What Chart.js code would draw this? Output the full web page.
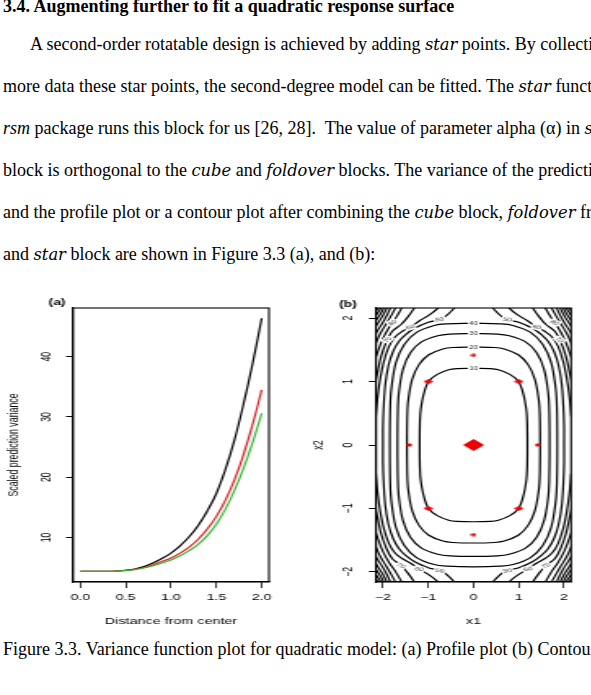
<!DOCTYPE html>
<html>
<head>
<meta charset="utf-8">
<script src="https://cdn.jsdelivr.net/npm/chart.js@4.4.1/dist/chart.umd.min.js"></script>
<style>
  html, body { margin: 0; padding: 0; background: #fff; overflow: hidden; }
  body { width: 591px; height: 695px; position: relative; }
  .ln { position: absolute; white-space: nowrap; font-family: 'Liberation Serif', 'Times New Roman', serif;
        font-size: 18px; line-height: 20px; color: #000; }
  .ln i { font-style: italic; }
  .ln .m { font-family: 'DejaVu Serif', serif; font-style: italic; font-size: 16.3px; }
  .fig { position: absolute; top: 285px; height: 345px; transform-origin: 0 0; transform: scaleX(1.63); }
</style>
</head>
<body>
<div class="ln" style="left:3px; top:-4.5px; font-weight:bold">3.4. Augmenting further to fit a quadratic response surface</div>
<div class="ln" style="left:30px; top:33.5px">A second-order rotatable design is achieved by adding <span class="m">star</span> points. By collecting</div>
<div class="ln" style="left:3px; top:75.6px">more data these star points, the second-degree model can be fitted. The <span class="m">star</span> function in the</div>
<div class="ln" style="left:3px; top:117.7px"><i>rsm</i> package runs this block for us [26, 28].&nbsp; The value of parameter alpha (α) in <span class="m">star</span></div>
<div class="ln" style="left:3px; top:159.8px">block is orthogonal to the <span class="m">cube</span> and <span class="m">foldover</span> blocks. The variance of the prediction</div>
<div class="ln" style="left:3px; top:201.9px">and the profile plot or a contour plot after combining the <span class="m">cube</span> block, <span class="m">foldover</span> from</div>
<div class="ln" style="left:3px; top:244px">and <span class="m">star</span> block are shown in Figure 3.3 (a), and (b):</div>

<div class="fig" style="left:0px; width:178px"><canvas id="cA" width="178" height="345"></canvas></div>
<div class="fig" style="left:300px; width:179px"><canvas id="cB" width="179" height="345"></canvas></div>

<div class="ln" style="left:3px; top:639px">Figure 3.3. Variance function plot for quadratic model: (a) Profile plot (b) Contour plot</div>

<script>
// ---- (a) profile plot ----
const distance = [0, 0.1, 0.2, 0.3, 0.4, 0.5, 0.6, 0.7, 0.8, 0.9, 1.0,
                  1.1, 1.2, 1.3, 1.4, 1.5, 1.6, 1.7, 1.8, 1.9, 2.0];
const spvBlack = [4.35, 4.35, 4.36, 4.38, 4.43, 4.55, 4.75, 5.15, 5.75, 6.5, 7.4,
                  8.6, 10.1, 12.0, 14.4, 17.3, 21.3, 26.2, 32.2, 38.9, 46.4];
const spvRed   = [4.35, 4.35, 4.36, 4.38, 4.42, 4.52, 4.7, 5.0, 5.45, 6.0, 6.6,
                  7.4, 8.4, 9.7, 11.4, 13.5, 16.2, 19.6, 23.8, 28.8, 34.5];
const spvGreen = [4.35, 4.35, 4.36, 4.37, 4.41, 4.5, 4.65, 4.93, 5.3, 5.75, 6.25,
                  6.95, 7.8, 8.85, 10.3, 12.2, 14.7, 17.8, 21.5, 25.8, 30.6];
const xTicksA = [0, 0.5, 1, 1.5, 2];
const yTicksA = [10, 20, 30, 40];

// ---- (b) contour plot ----
// closed contours, first quadrant only: from the x2 axis round to the x1 axis
const c10 = [[0,1.21],[0.372,1.204],[0.55,1.186],[0.801,1.114],[0.99,1.005],[1.096,0.814],[1.166,0.559],[1.184,0.379],[1.19,0]];
const c20 = [[0,1.545],[0.46,1.537],[0.679,1.514],[0.989,1.423],[1.205,1.267],[1.354,1.04],[1.441,0.714],[1.463,0.484],[1.47,0]];
const c30 = [[0,1.757],[0.526,1.748],[0.79,1.722],[1.15,1.625],[1.395,1.455],[1.56,1.19],[1.65,0.82],[1.672,0.55],[1.68,0]];
const c40 = [[0,1.92],[0.579,1.91],[0.87,1.885],[1.26,1.775],[1.53,1.585],[1.715,1.3],[1.815,0.89],[1.841,0.601],[1.85,0]];
// 50 runs out through the top edge
const c50 = [[0.3,2.3],[0.45,2.14],[0.7,1.99],[1.0,1.935],[1.3,1.84],[1.5,1.74],[1.65,1.63],[1.78,1.47],[1.88,1.25],[1.95,0.95],[1.985,0.6],[2.0,0.3],[2.0,0]];
// the rest only cut across the corners (top edge -> right edge)
const cornerArcs = [
  [[0.6,2.35],[0.8,2.15],[1.0,2.04],[1.2,1.955],[1.4,1.86],[1.58,1.79],[1.74,1.7],[1.87,1.55],[1.98,1.32],[2.06,1.05],[2.12,0.75],[2.16,0.45],[2.19,0.2]],
  [[1.15,2.35],[1.3,2.17],[1.45,2.02],[1.6,1.9],[1.8,1.79],[1.93,1.62],[2.04,1.4],[2.12,1.15],[2.2,0.9]],
  [[1.45,2.35],[1.58,2.17],[1.72,2.0],[1.86,1.86],[2.0,1.68],[2.1,1.5],[2.2,1.3]],
  [[1.62,2.35],[1.72,2.17],[1.82,2.04],[1.92,1.92],[2.05,1.77],[2.15,1.62],[2.25,1.45]],
  [[1.75,2.35],[1.83,2.17],[1.97,1.97],[2.15,1.77],[2.25,1.65]],
  [[1.85,2.35],[1.91,2.17],[2.02,2.02],[2.15,1.88],[2.25,1.78]],
  [[1.93,2.35],[1.98,2.17],[2.06,2.06],[2.15,1.97],[2.25,1.88]],
  [[2.0,2.35],[2.04,2.17],[2.1,2.1],[2.15,2.05],[2.25,1.96]],
  [[2.06,2.35],[2.09,2.17],[2.135,2.135],[2.17,2.1],[2.25,2.03]]
];
// label text, x1, x2, angle
const contourLabels = [
  ['10', 0, 1.21, 0], ['20', 0, 1.545, 0], ['30', 0, 1.757, 0], ['40', 0, 1.92, 0],
  ['50', 0.75, 1.98, 8], ['50', -0.75, 1.98, -8], ['50', 0.75, -1.98, -8], ['50', -0.75, -1.98, 8],
  ['60', 1.4, 1.86, 20], ['60', -1.4, 1.86, -20], ['60', 1.2, -1.955, -15], ['60', -1.2, -1.955, 15],
  ['70', 1.9, 1.66, 55], ['70', -1.9, 1.66, -55], ['70', 1.6, -1.9, -35], ['70', -1.6, -1.9, 35],
  ['80', 1.79, 1.93, 40], ['80', -1.79, 1.93, -40]
];
const centerPt = [[0, 0]];
const cubePts = [[-1,-1],[1,-1],[-1,1],[1,1]];
const starPts = [[-1.414,0],[1.414,0],[0,-1.414],[0,1.414]];
const xTicksB = [-2, -1, 0, 1, 2];
const yTicksB = [-2, -1, 0, 1, 2];

function ring(q) {
  const pts = q.slice();
  q.slice().reverse().slice(1).forEach(([x, y]) => pts.push([x, -y]));
  q.slice(1).forEach(([x, y]) => pts.push([-x, -y]));
  q.slice().reverse().slice(1).forEach(([x, y]) => pts.push([-x, y]));
  return [pts];
}
function sides(q) {
  const right = q.slice();
  q.slice().reverse().slice(1).forEach(([x, y]) => right.push([x, -y]));
  return [right, right.map(([x, y]) => [-x, y])];
}
function corners(q) {
  return [[1,1],[1,-1],[-1,1],[-1,-1]].map(([sx, sy]) => q.map(([x, y]) => [sx * x, sy * y]));
}
const xy = arr => arr.map(([x, y]) => ({x, y}));

Chart.defaults.font.family = "'Liberation Sans', Arial, sans-serif";
Chart.defaults.color = '#000';

const tickFont = {size: 8.7};
const titleFont = {size: 8.8};

const boxPlugin = {
  id: 'box',
  afterDraw(c, args, opts) {
    const {ctx, chartArea: a} = c;
    ctx.save();
    ctx.setTransform(1, 0, 0, 1, 0, 0);
    ctx.strokeStyle = '#000';
    ctx.lineWidth = 1.1;
    ctx.strokeRect(a.left, a.top, a.right - a.left, a.bottom - a.top);
    ctx.font = "bold 8.5px 'Liberation Sans', Arial, sans-serif";
    ctx.fillStyle = '#000';
    ctx.textAlign = 'center';
    ctx.textBaseline = 'middle';
    ctx.fillText(opts.tag, opts.tagX, opts.tagY);
    ctx.restore();
  }
};

function axisX(min, max, ticks, fmt, title) {
  return {
    type: 'linear', min, max,
    afterBuildTicks: s => { s.ticks = ticks.map(v => ({value: v})); },
    afterFit: s => { s.height = 48; },
    grid: {drawOnChartArea: false, drawTicks: true, tickLength: 6, color: '#000', lineWidth: 0.8},
    border: {display: true, color: '#000', width: 1.1},
    ticks: {font: tickFont, padding: 4.8, maxRotation: 0, minRotation: 0, callback: fmt},
    title: {display: true, text: title, font: titleFont, padding: {top: 0, bottom: 2.8}}
  };
}
function axisY(min, max, ticks, fmt, title, width, pad, titlePad) {
  return {
    type: 'linear', min, max,
    afterBuildTicks: s => { s.ticks = ticks.map(v => ({value: v})); },
    afterFit: s => { s.width = width; },
    grid: {drawOnChartArea: false, drawTicks: true, tickLength: 4.3, color: '#000', lineWidth: 1},
    border: {display: true, color: '#000', width: 1.1},
    ticks: {font: tickFont, padding: pad, minRotation: 90, maxRotation: 90, crossAlign: 'center', callback: fmt},
    title: {display: true, text: title, font: titleFont, padding: {top: titlePad, bottom: 0}}
  };
}

const line = (data, color, order) => ({
  data: xy(distance.map((d, i) => [d, data[i]])),
  showLine: true, borderColor: color, borderWidth: 1.2, pointRadius: 0, tension: 0.4, order
});

new Chart(document.getElementById('cA'), {
  type: 'scatter',
  data: {datasets: [line(spvBlack, '#000000', 3), line(spvRed, '#e41a1a', 2), line(spvGreen, '#2fb82f', 1)]},
  options: {
    responsive: false, animation: false, events: [],
    layout: {padding: {left: 0, top: 23, right: 13, bottom: 0}},
    elements: {line: {capBezierPoints: false}},
    plugins: {legend: {display: false}, tooltip: {enabled: false}, box: {tag: '(a)', tagX: 35, tagY: 18}},
    scales: {
      x: axisX(-0.08, 2.08, xTicksA, v => Number(v).toFixed(1), 'Distance from center'),
      y: axisY(2.6, 48.1, yTicksA, v => String(v), 'Scaled prediction variance', 44.8, 6.7, 3.4)
    }
  },
  plugins: [boxPlugin]
});

// ---- (b) ----
function diamond(w, h) {
  const cv = document.createElement('canvas');
  cv.width = w; cv.height = h;
  const g = cv.getContext('2d');
  g.fillStyle = '#f00000';
  g.beginPath();
  g.moveTo(w / 2, 0); g.lineTo(w, h / 2); g.lineTo(w / 2, h); g.lineTo(0, h / 2);
  g.closePath(); g.fill();
  return cv;
}

const paths = [].concat(ring(c10), ring(c20), ring(c30), ring(c40), sides(c50),
                        ...cornerArcs.map(corners));
const contourSets = paths.map(p => ({
  data: xy(p), showLine: true, borderColor: '#000', borderWidth: 1.2,
  pointRadius: 0, tension: 0.35, order: 2
}));
const pointSet = (pts, img) => ({
  data: xy(pts), showLine: false, pointStyle: img, pointRadius: 3, order: 0
});

const labelPlugin = {
  id: 'clabels',
  afterDatasetsDraw(c) {
    const {ctx, scales: {x, y}, chartArea: a} = c;
    ctx.save();
    ctx.beginPath();
    ctx.rect(a.left, a.top, a.right - a.left, a.bottom - a.top);
    ctx.clip();
    ctx.font = "5px 'Liberation Sans', Arial, sans-serif";
    ctx.textAlign = 'center';
    ctx.textBaseline = 'middle';
    contourLabels.forEach(([t, lx, ly, ang]) => {
      const px = x.getPixelForValue(lx), py = y.getPixelForValue(ly);
      const w = ctx.measureText(t).width + 1.5;
      ctx.save();
      ctx.translate(px, py);
      ctx.rotate(ang * Math.PI / 180);
      ctx.fillStyle = '#fff';
      ctx.fillRect(-w / 2, -3, w, 6);
      ctx.fillStyle = '#333';
      ctx.fillText(t, 0, 0.3);
      ctx.restore();
    });
    ctx.restore();
  }
};

const minusFmt = v => (v < 0 ? '\u2212' + Math.abs(v) : String(v));

new Chart(document.getElementById('cB'), {
  type: 'scatter',
  data: {datasets: contourSets.concat([
    pointSet(centerPt, diamond(13, 12)),
    pointSet(cubePts, diamond(6, 5)),
    pointSet(starPts, diamond(4, 4))
  ])},
  options: {
    responsive: false, animation: false, events: [],
    layout: {padding: {left: 0, top: 23, right: 12.7, bottom: 0}},
    elements: {line: {capBezierPoints: false}},
    plugins: {legend: {display: false}, tooltip: {enabled: false}, box: {tag: '(b)', tagX: 29.4, tagY: 20}},
    scales: {
      x: axisX(-2.155, 2.155, xTicksB, minusFmt, 'x1'),
      y: axisY(-2.16, 2.16, yTicksB, minusFmt, 'x2', 46.6, 7.3, 6.5)
    }
  },
  plugins: [labelPlugin, boxPlugin]
});
</script>
</body>
</html>
